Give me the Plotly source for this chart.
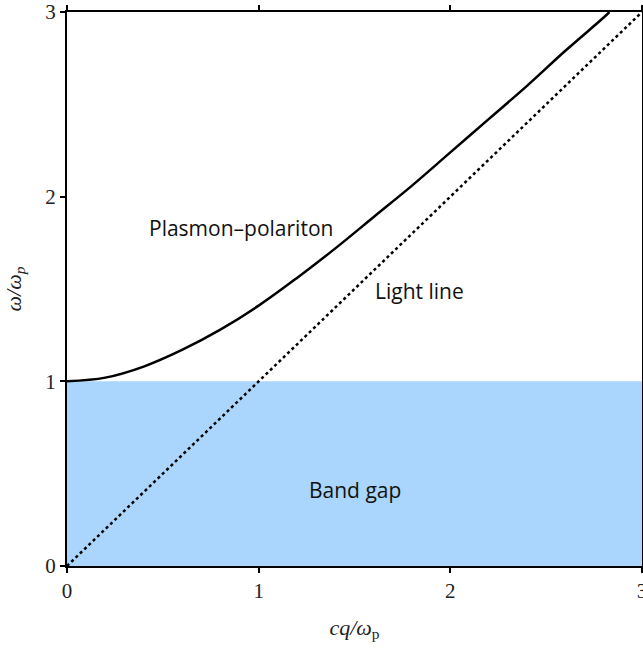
import plotly.graph_objects as go

# Data
q_plasmon = [0.0, 0.2, 0.4, 0.6, 0.8, 1.0, 1.2, 1.4, 1.6, 1.8, 2.0, 2.2, 2.4, 2.6, 2.8, 2.83]
w_plasmon = [1.00, 1.02, 1.08, 1.17, 1.28, 1.41, 1.56, 1.72, 1.89, 2.06, 2.24, 2.42, 2.60, 2.79, 2.97, 3.00]
q_light = [0.0, 3.0]
w_light = [0.0, 3.0]
gap_q = [0.0, 3.0]
gap_top = 1.0
tick_vals = [0, 1, 2, 3]
tick_text = ["0", "1", "2", "3"]
labels = ["Plasmon\u2013polariton", "Light line", "Band gap"]
label_q = [0.91, 1.84, 1.5]
label_w = [1.83, 1.49, 0.41]

fig = go.Figure()
fig.add_trace(go.Scatter(x=[gap_q[0], gap_q[1], gap_q[1], gap_q[0], gap_q[0]],
                         y=[0, 0, gap_top, gap_top, 0], fill="toself",
                         fillcolor="rgb(170,213,252)", line=dict(width=0),
                         mode="lines", hoverinfo="skip", showlegend=False))
fig.add_trace(go.Scatter(x=q_light, y=w_light, mode="lines",
                         line=dict(color="black", width=2.5, dash="dot"), showlegend=False))
fig.add_trace(go.Scatter(x=q_plasmon, y=w_plasmon, mode="lines", line_shape="spline",
                         line=dict(color="black", width=2.5), showlegend=False))

for t, x, y in zip(labels, label_q, label_w):
    fig.add_annotation(x=x, y=y, text=t, showarrow=False,
                       font=dict(family="Open Sans", size=21, color="#111"))

axis_common = dict(showgrid=False, zeroline=False, showline=True, linecolor="black",
                   linewidth=2, mirror="ticks", ticks="outside", ticklen=5, tickwidth=2,
                   tickcolor="black", tickvals=tick_vals, ticktext=tick_text, automargin=False,
                   ticklabeloverflow="allow",
                   tickfont=dict(family="Liberation Serif", size=21, color="#222"))
fig.update_xaxes(range=[0, 3], title=dict(text="<i>cq/ω</i><sub>p</sub>",
                 font=dict(family="Liberation Serif", size=22, color="#222"), standoff=17),
                 **axis_common)
fig.update_yaxes(range=[0, 3], title=dict(text="<i>ω/ω<sub>p</sub></i>",
                 font=dict(family="Liberation Serif", size=22, color="#222"), standoff=18),
                 **axis_common)
fig.update_layout(width=643, height=650, margin=dict(l=67, r=1, t=12, b=84),
                  plot_bgcolor="white", paper_bgcolor="white")
fig.write_html("out.html", config={"displayModeBar": False},
               post_script="document.body.style.margin='0';")
